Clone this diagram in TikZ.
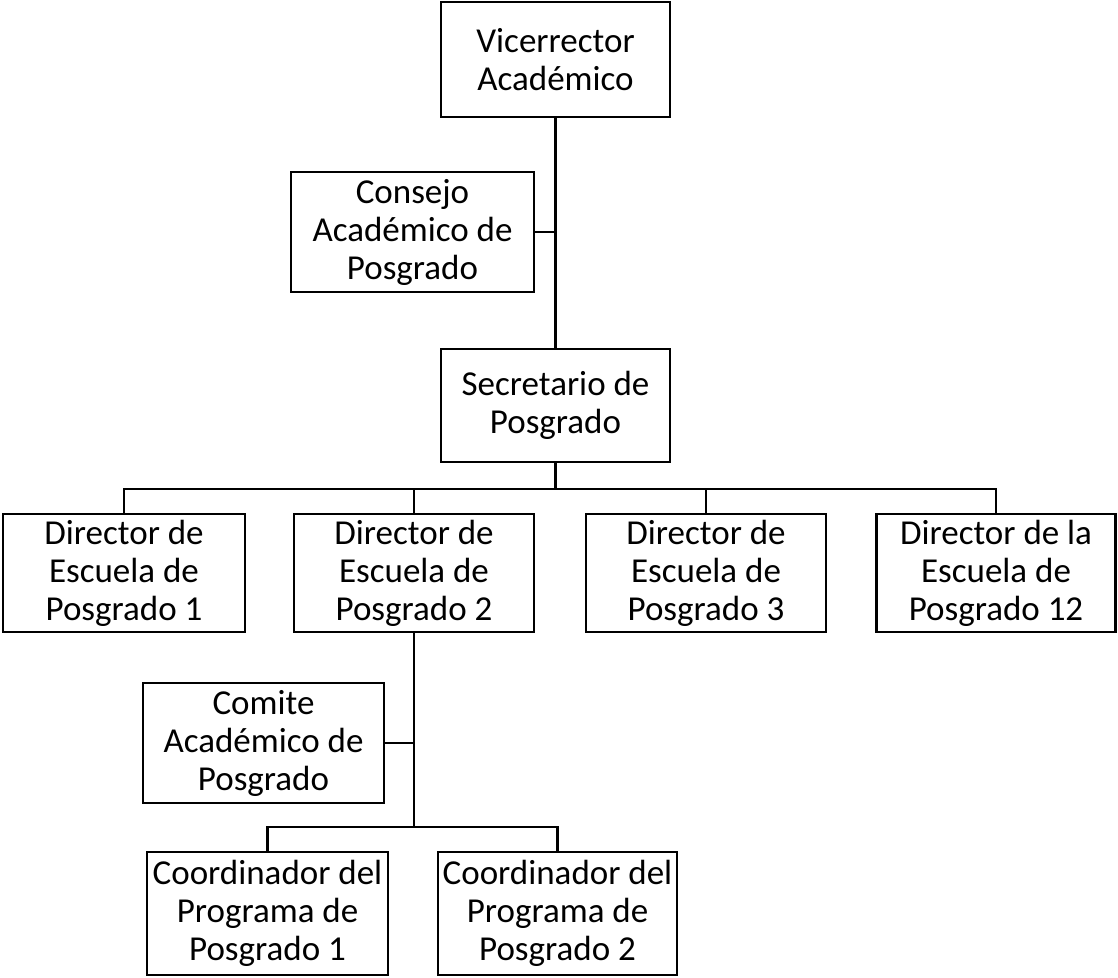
\documentclass[tikz,border=0pt]{standalone}
\usepackage{fontspec}
\setmainfont{Carlito}
\begin{document}
\begin{tikzpicture}[x=1pt,y=-1pt,
  box/.style={draw,line width=2.8pt,inner sep=0pt,align=center,
    font=\fontsize{35}{38}\selectfont},
  conn/.style={line width=2.8pt}]
\useasboundingbox (0,0) rectangle (1118,977);
% boxes (centers from pixel layout)
\node[box,minimum width=229,minimum height=115] (vice) at (555.5,59.5) {Vicerrector\\Académico};
\node[box,minimum width=243,minimum height=120] (cons) at (412.5,232) {Consejo\\Académico de\\Posgrado};
\node[box,minimum width=229,minimum height=113] (sec) at (555.5,405.5) {Secretario de\\Posgrado};
\node[box,minimum width=242,minimum height=118] (d1) at (124,573) {Director de\\Escuela de\\Posgrado 1};
\node[box,minimum width=240,minimum height=118] (d2) at (414,573) {Director de\\Escuela de\\Posgrado 2};
\node[box,minimum width=240,minimum height=118] (d3) at (706,573) {Director de\\Escuela de\\Posgrado 3};
\node[box,minimum width=239,minimum height=118] (d4) at (996,573) {Director de la\\Escuela de\\Posgrado 12};
\node[box,minimum width=241,minimum height=120] (com) at (263.5,743) {Comite\\Académico de\\Posgrado};
\node[box,minimum width=241,minimum height=123] (c1) at (267.5,913.5) {Coordinador del\\Programa de\\Posgrado 1};
\node[box,minimum width=239,minimum height=123] (c2) at (557.5,913.5) {Coordinador del\\Programa de\\Posgrado 2};
\coordinate (bus1) at (0,489);
\coordinate (bus2) at (0,827);
% connectors
\draw[conn] (vice.south) -- (sec.north);
\draw[conn] (cons.east) -- (cons.east -| vice.south);
\draw[conn] (sec.south) -- (sec.south |- bus1);
\draw[conn] (d1.north) -- (d1.north |- bus1) -| (d4.north);
\draw[conn] (d2.north) -- (d2.north |- bus1);
\draw[conn] (d3.north) -- (d3.north |- bus1);
\draw[conn] (d2.south) -- (d2.south |- bus2);
\draw[conn] (com.east) -- (com.east -| d2.south);
\draw[conn] (c1.north) -- (c1.north |- bus2) -| (c2.north);
\end{tikzpicture}
\end{document}
